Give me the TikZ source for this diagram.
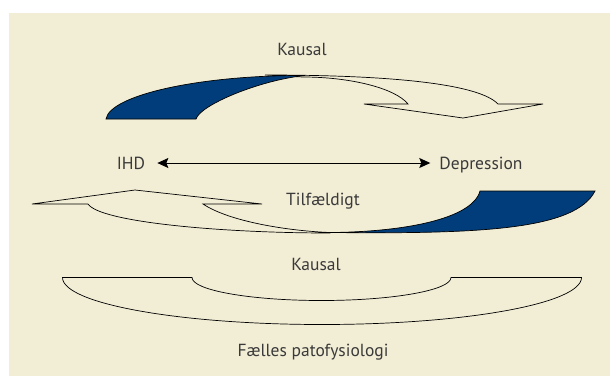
\documentclass[tikz,border=0pt]{standalone}
\usepackage{fontspec}
\setmainfont{PT Sans}
\usetikzlibrary{arrows.meta}
\definecolor{panelbg}{RGB}{242,237,213}
\definecolor{navy}{RGB}{0,61,122}
\definecolor{textgray}{RGB}{58,58,58}
\tikzset{mytip/.tip={Stealth[length=11pt,width=10pt,inset=2pt]}}
\begin{document}
\begin{tikzpicture}[x=1pt,y=-1pt,
  lbl/.style={font=\fontsize{17.5}{21}\selectfont, text=textgray, inner sep=0pt, text height=12.25pt, text depth=0pt},
  bandline/.style={draw=black, line width=0.7pt, line join=miter},
  bluepart/.style={bandline, fill=navy},
  palepart/.style={bandline, fill=panelbg}]
\useasboundingbox (0,0) rectangle (610,376);
\fill[white] (0,0) rectangle (610,376);
\fill[panelbg] (9,13) rectangle (610,376);

% top curved arrow (Kausal)
\draw[palepart] (265,75) .. controls (400,75) and (480,85) .. (498,104) -- (543,104) -- (463,118) -- (364,104) -- (408,104) .. controls (395,88) and (350,77) .. (303,77) -- cycle;
\draw[bluepart] (106,119) .. controls (110,95) and (200,75) .. (305,75.5) .. controls (260,80) and (200,105) .. (196,119) -- cycle;

% middle curved arrow (Tilfaeldigt)
\draw[palepart] (330,233) .. controls (220,233) and (100,222) .. (88,204) -- (32,204) -- (135,190) -- (262,204) -- (203,204) .. controls (230,222) and (290,231) .. (330,232.5) -- cycle;
\draw[bluepart] (330,232.5) .. controls (480,234) and (575,230) .. (595,191) -- (480,191) .. controls (472,220) and (400,232) .. (330,232.5) -- cycle;

% bottom band (Faelles patofysiologi)
\draw[palepart] (62.5,277.5) -- (192,277.5) .. controls (192,290.2) and (250,300.5) .. (321.5,300.5) .. controls (393,300.5) and (451,290.2) .. (451,277.5) -- (581.5,277.5) .. controls (581.5,303.5) and (465.3,324.5) .. (322,324.5) .. controls (178.7,324.5) and (62.5,303.5) .. (62.5,277.5) -- cycle;

% labels
\node[lbl] (k1) at (302,49.5) {Kausal};
\node[lbl] (ihd) at (131,163) {IHD};
\node[lbl] (dep) at (481,163) {Depression};
\node[lbl] (tf) at (323,199) {Tilfældigt};
\node[lbl] (k2) at (316,264.5) {Kausal};
\node[lbl] (fp) at (313,350.5) {Fælles patofysiologi};

\draw[mytip-mytip, line width=1pt, shorten <=12pt, shorten >=9pt] (ihd) -- (dep);
\end{tikzpicture}
\end{document}
